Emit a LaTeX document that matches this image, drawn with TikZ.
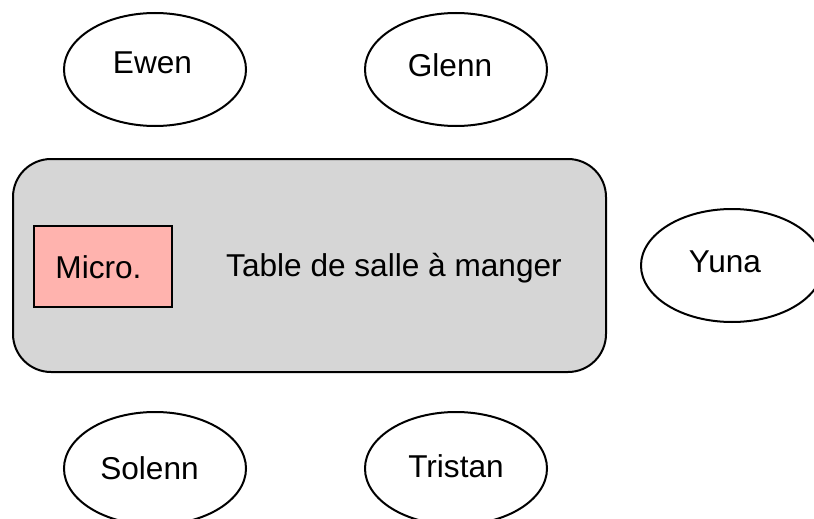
\documentclass[tikz,border=0pt]{standalone}
\usepackage{fontspec}
\setmainfont{Liberation Sans}
\usetikzlibrary{shapes.geometric}
\definecolor{tablegray}{HTML}{D6D6D6}
\definecolor{micropink}{HTML}{FFB3AE}
\tikzset{
  person/.style={draw=black, line width=2pt, ellipse, fill=white,
    minimum width=182pt, minimum height=113pt, inner sep=0pt},
  lbl/.style={font=\fontsize{31.6}{36}\selectfont, inner sep=0pt, anchor=base},
  tablebox/.style={draw=black, line width=2pt, fill=tablegray, rounded corners=38pt},
  microbox/.style={draw=black, line width=2pt, fill=micropink}
}
\begin{document}
\begin{tikzpicture}[x=1pt,y=-1pt]
\useasboundingbox (0,0) rectangle (814,519);
% persons
\node[person] (ewen) at (155,69.5) {};
\node[lbl] (ewenT) at (152.5,74) {Ewen};
\node[person] (glenn) at (456,69.5) {};
\node[lbl] (glennT) at (450,77) {Glenn};
\node[person] (yuna) at (732,265.5) {};
\node[lbl] (yunaT) at (725,272) {Yuna};
\node[person] (solenn) at (155,468.5) {};
\node[lbl] (solennT) at (149.5,479) {Solenn};
\node[person] (tristan) at (456,468.5) {};
\node[lbl] (tristanT) at (456,477) {Tristan};
% table
\draw[tablebox] (13,159) rectangle (606,372);
\node[microbox, minimum width=138pt, minimum height=81pt, inner sep=0pt] (micro) at (103,266.5) {};
\node[lbl] (microT) at (98.5,278) {Micro.};
\node[lbl] (tableT) at (394,276.7) {Table de salle à manger};
\end{tikzpicture}
\end{document}
